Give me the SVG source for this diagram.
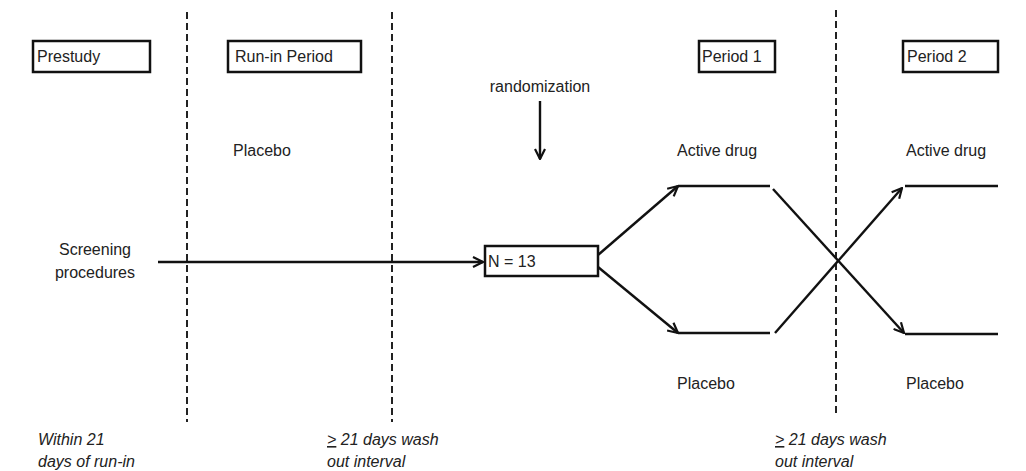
<svg xmlns="http://www.w3.org/2000/svg" width="1026" height="471" viewBox="0 0 1026 471">
<defs>
<marker id="ah" viewBox="0 0 12 12" refX="11" refY="6" markerWidth="12" markerHeight="12" markerUnits="userSpaceOnUse" orient="auto">
<path d="M1,1 L11,6 L1,11" fill="none" stroke="#111" stroke-width="2.2"/>
</marker>
<style>
text{font-family:"Liberation Sans",Arial,sans-serif;font-size:16px;fill:#222}
.it{font-style:italic}
.box{fill:#fff;stroke:#111;stroke-width:2.5}
.dash{stroke:#222;stroke-width:2;stroke-dasharray:7 4;fill:none}
.ln{stroke:#111;stroke-width:2.4;fill:none}
</style>
</defs>
<rect width="1026" height="471" fill="#fff"/>
<g id="dividers">
<line class="dash" x1="187" y1="12" x2="187" y2="422"/>
<line class="dash" x1="392" y1="12" x2="392" y2="422"/>
<line class="dash" x1="836" y1="10" x2="836" y2="416"/>
</g>
<g id="prestudy"><rect class="box" x="33" y="41" width="117" height="31"/><text x="37" y="62">Prestudy</text></g>
<g id="runin"><rect class="box" x="228" y="41" width="133" height="31"/><text x="235" y="62">Run-in Period</text></g>
<g id="period1"><rect class="box" x="699" y="41" width="76" height="31"/><text x="702" y="62">Period 1</text></g>
<g id="period2"><rect class="box" x="903" y="41" width="95" height="31"/><text x="907" y="62">Period 2</text></g>
<g id="randomization"><text x="540" y="92" text-anchor="middle">randomization</text></g>
<g id="placebo-runin"><text x="233" y="156">Placebo</text></g>
<g id="active1"><text x="677" y="156">Active drug</text></g>
<g id="active2"><text x="906" y="156">Active drug</text></g>
<g id="placebo1"><text x="677" y="389">Placebo</text></g>
<g id="placebo2"><text x="906" y="389">Placebo</text></g>
<g id="screening"><text x="95" y="255" text-anchor="middle">Screening</text><text x="95" y="278" text-anchor="middle">procedures</text></g>
<g id="n13"><rect class="box" x="485" y="246" width="113" height="30"/><text x="488" y="267">N = 13</text></g>
<g id="notes">
<text class="it" x="38" y="445">Within 21</text>
<text class="it" x="38" y="467">days of run-in</text>
<text class="it" x="327" y="445"><tspan text-decoration="underline">&gt;</tspan> 21 days wash</text>
<text class="it" x="327" y="467">out interval</text>
<text class="it" x="775" y="445"><tspan text-decoration="underline">&gt;</tspan> 21 days wash</text>
<text class="it" x="775" y="467">out interval</text>
</g>
<g id="connectors">
<line class="ln" x1="540" y1="101" x2="540" y2="159" marker-end="url(#ah)"/>
<line class="ln" x1="158" y1="262" x2="483" y2="262" marker-end="url(#ah)"/>
<line class="ln" x1="598" y1="255" x2="678" y2="186" marker-end="url(#ah)"/>
<line class="ln" x1="598" y1="267" x2="678" y2="333" marker-end="url(#ah)"/>
<line class="ln" x1="678" y1="186" x2="770" y2="186"/>
<line class="ln" x1="678" y1="333" x2="770" y2="333"/>
<line class="ln" x1="773" y1="189" x2="904" y2="333" marker-end="url(#ah)"/>
<line class="ln" x1="775" y1="333" x2="902" y2="188" marker-end="url(#ah)"/>
<line class="ln" x1="905" y1="186" x2="998" y2="186"/>
<line class="ln" x1="905" y1="334" x2="998" y2="334"/>
</g>
</svg>
